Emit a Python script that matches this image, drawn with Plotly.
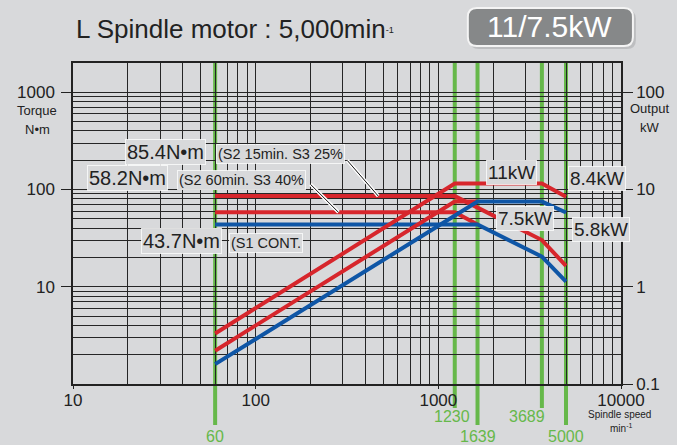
import math
import plotly.graph_objects as go

# ---------------- data ----------------
speed_s2_15_torque = [60, 1230, 3689, 5000]
torque_s2_15 = [85.4, 85.4, 30.2, 16.4]
speed_s2_15_power = [60, 1230, 3689, 5000]
power_s2_15 = [0.33, 11.5, 11.5, 8.4]

speed_s2_60_torque = [60, 1230, 1639]
torque_s2_60 = [58.2, 58.2, 43.7]
speed_s2_60_power = [60, 1230, 1639]
power_s2_60 = [0.22, 7.5, 7.5]

speed_s1_torque = [60, 1639, 3689, 5000]
torque_s1 = [43.7, 43.7, 20.4, 11.3]
speed_s1_power = [60, 1639, 3689, 5000]
power_s1 = [0.16, 7.5, 7.5, 5.8]

marker_speeds = [60, 1230, 1639, 3689, 5000]
x_tick_vals = [10, 100, 1000, 10000]
y_torque_ticks = [10, 100, 1000]
y_power_ticks = [0.1, 1, 10, 100]

# ---------------- style ----------------
W, H = 677, 445
L, R, T, B = 73, 624, 63, 384
BG = "#d8d9db"
RED = "#d7262c"
BLUE = "#0f56a6"
GREEN = "#66b84a"
GRID = "#262626"
TXT = "#222222"
FONT = "Liberation Sans, Arial, sans-serif"


def pxx(x):
    return (x - L) / (R - L)


def pxy(y):
    return (B - y) / (B - T)


fig = go.Figure()

def add_line(xs, ys, color, axis):
    fig.add_trace(go.Scatter(x=xs, y=ys, mode="lines", yaxis=axis,
                             line=dict(color=color, width=4),
                             hoverinfo="skip", showlegend=False))

add_line(speed_s2_15_torque, torque_s2_15, RED, "y")
add_line(speed_s2_60_torque, torque_s2_60, RED, "y")
add_line(speed_s2_15_power, power_s2_15, RED, "y2")
add_line(speed_s2_60_power, power_s2_60, RED, "y2")
add_line(speed_s1_torque, torque_s1, BLUE, "y")
add_line(speed_s1_power, power_s1, BLUE, "y2")

shapes = []
annotations = []

# green speed markers
for i, s in enumerate(marker_speeds):
    low = 425 if i % 2 == 0 else 408
    shapes.append(dict(type="line", xref="x", yref="paper", x0=s, x1=s,
                       y0=pxy(low), y1=1, layer="between",
                       line=dict(color=GREEN, width=4)))
    lab_y = 437 if i % 2 == 0 else 417
    shift = 0
    if s == 3689:
        shift = -15
    elif s == 1230:
        shift = -3
    annotations.append(dict(text=str(s), xref="x", yref="paper",
                            x=math.log10(s), y=pxy(lab_y), xshift=shift,
                            showarrow=False, xanchor="center", yanchor="middle",
                            font=dict(size=16, color=GREEN, family=FONT)))


def ann(text, x, y, size, color=TXT, box=False, xanchor="center", **kw):
    d = dict(text=text, xref="paper", yref="paper", x=pxx(x), y=pxy(y),
             showarrow=False, xanchor=xanchor, yanchor="middle",
             font=dict(size=size, color=color, family=FONT), **kw)
    if box:
        d.update(bgcolor=BG, bordercolor="rgba(255,255,255,0.75)",
                 borderwidth=1, borderpad=1)
    return d

# title
annotations.append(ann("L Spindle motor : 5,000min<span style='font-size:13px'><sup>-1</sup></span>",
                       74, 29, 26, xanchor="left"))

# rounded box
def rrect(x0, y0, x1, y1, r):
    pts = [("M", x0 + r, y0), ("L", x1 - r, y0), ("Q", x1, y0, x1, y0 + r),
           ("L", x1, y1 - r), ("Q", x1, y1, x1 - r, y1), ("L", x0 + r, y1),
           ("Q", x0, y1, x0, y1 - r), ("L", x0, y0 + r), ("Q", x0, y0, x0 + r, y0)]
    out = []
    for p in pts:
        cmd = p[0]
        coords = p[1:]
        seg = []
        for k in range(0, len(coords), 2):
            seg.append(f"{pxx(coords[k]):.5f},{pxy(coords[k+1]):.5f}")
        out.append(cmd + " " + " ".join(seg))
    return " ".join(out) + " Z"

shapes.append(dict(type="path", xref="paper", yref="paper",
                   path=rrect(472, 10, 639, 49, 9),
                   fillcolor="rgba(0,0,0,0.12)", line=dict(width=0)))
shapes.append(dict(type="path", xref="paper", yref="paper",
                   path=rrect(470, 8, 636, 46, 9),
                   fillcolor="#868889", line=dict(color="#f4f4f4", width=2)))
annotations.append(ann("11/7.5kW", 552, 27, 30, color="white"))

# axis captions
annotations.append(ann("Torque", 37, 110, 13))
annotations.append(ann("N•m", 37, 129, 13))
annotations.append(ann("Output", 653, 108, 13))
annotations.append(ann("kW", 653, 127, 13))
annotations.append(ann("Spindle speed", 622, 415, 10))
annotations.append(ann("min<sup>-1</sup>", 624, 428, 10))

# curve labels
annotations.append(ann("85.4N•m", 166, 152, 20, box=True))
annotations.append(ann("(S2 15min. S3 25%", 282, 154, 14.5, box=True))
annotations.append(ann("58.2N•m", 128, 178, 20, box=True))
annotations.append(ann("(S2 60min. S3 40%", 242, 180, 14.5, box=True))
annotations.append(ann("43.7N•m", 182, 241, 20, box=True))
annotations.append(ann("(S1 CONT.", 267, 243, 14.5, box=True))
annotations.append(ann("11kW", 514, 172, 19, box=True))
annotations.append(ann("8.4kW", 600, 178, 19, box=True))
annotations.append(ann("7.5kW", 527, 218, 19, box=True))
annotations.append(ann("5.8kW", 604, 229, 19, box=True))

# leader lines (pointing at the torque curves)
for spd, tq, ax, ay in [(469, torque_s2_15[0], -33, -38), (284, torque_s2_60[0], -30, -30)]:
    for col, w in [("white", 3.5), ("#111111", 1)]:
        annotations.append(dict(text=" ", xref="x", yref="y",
                                x=math.log10(spd), y=math.log10(tq),
                                ax=ax, ay=ay, showarrow=True, arrowhead=0,
                                arrowwidth=w, arrowcolor=col, standoff=0,
                                startstandoff=0, font=dict(size=4)))

axis_common = dict(type="log", showline=True, linecolor=TXT, linewidth=1.5,
                   tickfont=dict(size=17, color=TXT, family=FONT),
                   zeroline=False)

fig.update_layout(
    width=W, height=H,
    margin=dict(l=L, r=W - R, t=T, b=H - B),
    paper_bgcolor=BG, plot_bgcolor=BG,
    showlegend=False,
    xaxis=dict(range=[1, 4], tickvals=x_tick_vals,
               ticktext=[str(v) for v in x_tick_vals],
               ticks="outside", ticklen=3, tickcolor=TXT,
               showgrid=True, gridcolor=GRID, gridwidth=1, mirror=True,
               minor=dict(dtick="D1", showgrid=True, gridcolor=GRID, gridwidth=1, ticks=""),
               ticklabelstandoff=-3, **axis_common),
    yaxis=dict(range=[0, 3.30], tickvals=y_torque_ticks,
               ticktext=[str(v) for v in y_torque_ticks],
               ticks="outside", ticklen=10, tickcolor=TXT,
               showgrid=True, gridcolor=GRID, gridwidth=1, mirror=True,
               minor=dict(dtick="D1", showgrid=True, gridcolor=GRID, gridwidth=1, ticks=""),
               ticklabelstandoff=3, **axis_common),
    yaxis2=dict(range=[-1, 2.30], overlaying="y", side="right",
                tickvals=y_power_ticks, ticktext=["0.1", "1", "10", "100"],
                ticks="outside", ticklen=10, tickcolor=TXT, showgrid=False,
                **axis_common),
    shapes=shapes,
    annotations=annotations,
)

fig.write_html("out.html")
